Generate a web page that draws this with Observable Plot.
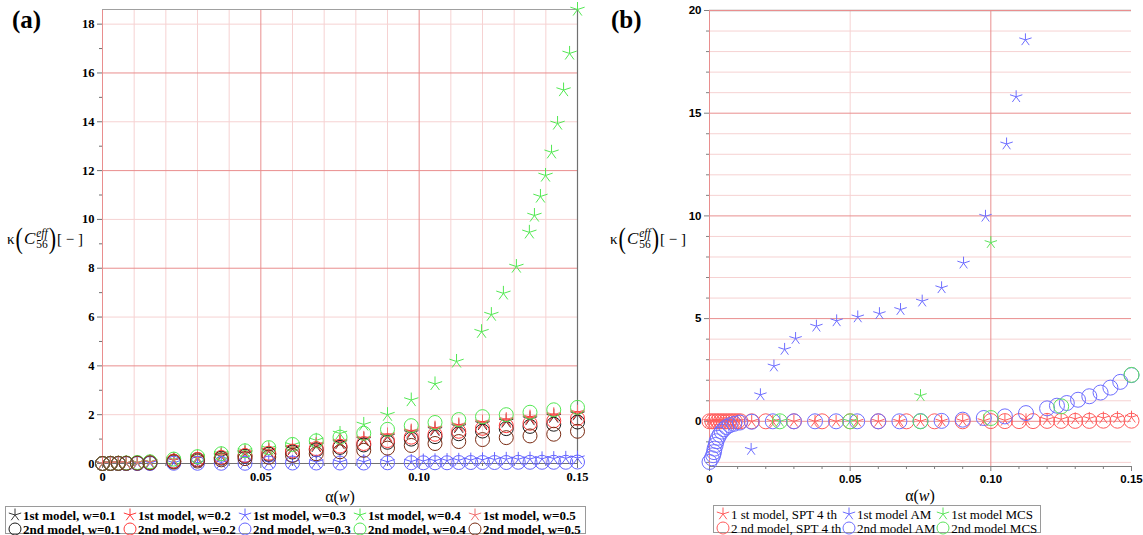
<!DOCTYPE html>
<html><head><meta charset="utf-8">
<script src="https://cdn.jsdelivr.net/npm/d3@7"></script>
<script src="https://cdn.jsdelivr.net/npm/@observablehq/plot@0.6"></script>
<style>
body{margin:0;background:#fff;width:1143px;height:535px;position:relative;overflow:hidden;font-family:"Liberation Serif",serif;color:#000;}
.abs{position:absolute;}
.plabel{font-weight:bold;font-size:25px;line-height:25px;}
.ylab{font-size:15px;display:flex;align-items:center;white-space:nowrap;height:30px;}
.par{font-size:22px;display:inline-block;transform:scaleY(1.35);line-height:1;margin:0 1px;}
.C{font-size:17px;font-style:italic;}
.ss{display:inline-flex;flex-direction:column;font-size:11.5px;line-height:11px;margin-left:1px;align-items:center;}
.xlab{font-size:16px;white-space:nowrap;transform:translateX(-50%);}
.legend{border:1px solid #9a9a9a;box-sizing:border-box;display:grid;font-size:13px;line-height:13px;padding:1px 2px;white-space:nowrap;}
.legend .it{display:flex;align-items:center;}
.legend svg{flex:none;margin-right:1px;}
</style></head>
<body>
<div id="pa" class="abs" style="left:0;top:0"></div>
<div id="pb" class="abs" style="left:600px;top:0"></div>
<div class="abs plabel" style="left:12px;top:7px">(a)</div>
<div class="abs plabel" style="left:611px;top:7px">(b)</div>
<div class="abs ylab" style="left:7px;top:224px">κ<span class="par">(</span><span class="C">C</span><span class="ss"><i>eff</i><span>56</span></span><span class="par">)</span><span>[ − ]</span></div>
<div class="abs ylab" style="left:610px;top:224px">κ<span class="par">(</span><span class="C">C</span><span class="ss"><i>eff</i><span>56</span></span><span class="par">)</span><span>[ − ]</span></div>
<div class="abs xlab" style="left:340px;top:488px">α(<i>w</i>)</div>
<div class="abs xlab" style="left:920px;top:487px">α(<i>w</i>)</div>
<div id="lega" class="abs legend" style="left:5px;top:506px;width:581px;height:28px;grid-template-columns:repeat(5,115px);font-weight:bold;"></div>
<div id="legb" class="abs legend" style="left:713px;top:505px;width:328px;height:28px;grid-template-columns:auto auto auto;"></div>
<script>
// ---------------- Panel (a) data ----------------
const xA = [0, 0.0025, 0.005, 0.0075, 0.011, 0.015, 0.0225, 0.03, 0.0375, 0.045, 0.0525, 0.06, 0.0675, 0.075, 0.0825, 0.09, 0.0975, 0.105, 0.1125, 0.12, 0.1275, 0.135, 0.1425, 0.15];
const m1w01 = [0,0.004,0.008,0.015,0.03,0.05,0.13,0.21,0.3,0.4,0.5,0.6,0.72,0.84,0.97,1.1,1.25,1.38,1.5,1.62,1.72,1.82,1.92,2.02];
const m1w02 = [0,0.005,0.01,0.02,0.035,0.06,0.14,0.23,0.33,0.43,0.53,0.64,0.76,0.88,1.0,1.14,1.3,1.42,1.55,1.66,1.76,1.86,1.96,2.06];
const m1w05 = [0,0.005,0.01,0.02,0.035,0.06,0.15,0.24,0.34,0.44,0.55,0.66,0.78,0.9,1.03,1.17,1.33,1.45,1.58,1.7,1.8,1.9,2.0,2.1];
const m2w01 = [0,0.003,0.005,0.009,0.018,0.035,0.09,0.15,0.22,0.3,0.38,0.47,0.56,0.66,0.76,0.87,1.0,1.1,1.22,1.33,1.43,1.52,1.61,1.7];
const m2w02 = [0,0.003,0.006,0.01,0.02,0.04,0.1,0.17,0.25,0.33,0.42,0.51,0.61,0.71,0.82,0.94,1.08,1.2,1.32,1.44,1.55,1.65,1.75,1.85];
const m2w04 = [0,0.005,0.01,0.02,0.04,0.07,0.18,0.28,0.4,0.52,0.65,0.78,0.93,1.08,1.24,1.4,1.55,1.68,1.8,1.92,2.0,2.1,2.2,2.3];
const m2w05 = [0,0.002,0.004,0.006,0.01,0.02,0.06,0.1,0.15,0.2,0.26,0.33,0.4,0.48,0.54,0.63,0.74,0.82,0.9,0.98,1.06,1.13,1.2,1.32];
const xBlueA = [0, 0.0025, 0.005, 0.0075, 0.011, 0.015, 0.0225, 0.03, 0.0375, 0.045, 0.0525, 0.06, 0.0675, 0.075, 0.0825, 0.09, 0.0975, 0.1013, 0.105, 0.1088, 0.1125, 0.1163, 0.12, 0.1238, 0.1275, 0.1313, 0.135, 0.1388, 0.1425, 0.1463, 0.15];
const m1w03 = [0,0,0,0.01,0.01,0.02,0.03,0.03,0.04,0.04,0.05,0.05,0.06,0.06,0.07,0.07,0.08,0.1,0.11,0.12,0.13,0.14,0.15,0.16,0.17,0.17,0.18,0.19,0.2,0.21,0.22];
const m2w03 = [0,0,0,0,0,0,0.01,0.01,0.01,0.01,0.02,0.02,0.02,0.02,0.02,0.03,0.03,0.03,0.03,0.03,0.04,0.04,0.04,0.04,0.04,0.05,0.05,0.05,0.05,0.05,0.06];
const xGreenA = [0, 0.0025, 0.005, 0.0075, 0.011, 0.015, 0.0225, 0.03, 0.0375, 0.045, 0.0525, 0.06, 0.0675, 0.075, 0.0825, 0.09, 0.0975, 0.105, 0.1118, 0.1197, 0.1228, 0.1266, 0.1307, 0.1348, 0.1364, 0.1383, 0.1399, 0.1418, 0.1437, 0.1456, 0.1475, 0.15];
const m1w04 = [0,0.005,0.01,0.02,0.04,0.07,0.17,0.28,0.4,0.52,0.62,0.76,0.95,1.23,1.6,2.0,2.6,3.26,4.18,5.4,6.1,6.97,8.07,9.47,10.16,10.94,11.8,12.75,13.93,15.3,16.8,18.6];

const xTicksA = [0, 0.05, 0.1, 0.15];
const xTickLabelsA = ["0", "0.05", "0.10", "0.15"];
const xMinorA = [0.01,0.02,0.03,0.04,0.06,0.07,0.08,0.09,0.11,0.12,0.13,0.14];
const xMajorGridA = [0, 0.05, 0.1];
const yTicksA = [0,2,4,6,8,10,12,14,16,18];
const yMinorTicksA = [1,3,5,7,9,11,13,15,17];
const yMajorGridA = [4,8,12,16];
const yMinorGridA = [2,6,10,14,18];

// ---------------- Panel (b) data ----------------
const xSptStar = [0,0.001,0.002,0.003,0.004,0.005,0.006,0.007,0.008,0.009,0.01,0.015,0.0225,0.03,0.0375,0.045,0.0525,0.06,0.0675,0.075,0.0825,0.09,0.0975,0.105,0.1125,0.12,0.125,0.13,0.135,0.14,0.145,0.15];
const sptStar = [0,0,0,0,0,0,0,0,0,0,0,0,0,0,0,0,0,0,0,0.01,0.01,0.02,0.03,0.05,0.07,0.09,0.1,0.12,0.14,0.16,0.18,0.2];
const xSptCircle = [0,0.001,0.002,0.003,0.004,0.005,0.006,0.007,0.008,0.009,0.01,0.011,0.015,0.02,0.03,0.04,0.05,0.06,0.07,0.08,0.09,0.1,0.105,0.11,0.115,0.12,0.125,0.13,0.135,0.14,0.145,0.15];
const sptCircle = [0,0,0,0,0,0,0,0,0,0,0,0,0,0,0,0,0,0,0,0,0,0.01,0.01,0.01,0.01,0.02,0.02,0.02,0.02,0.03,0.03,0.03];
const xAmStar = [0.0148,0.0181,0.0229,0.0267,0.0306,0.038,0.0452,0.0527,0.0604,0.0679,0.0756,0.0825,0.0903,0.0981,0.1056,0.109,0.1123];
const amStar = [-1.37,1.29,2.69,3.5,4.03,4.63,4.89,5.08,5.24,5.44,5.85,6.5,7.7,9.98,13.5,15.8,18.57];
const xAmCircle = [0,0.0008,0.0013,0.0016,0.0018,0.0022,0.0025,0.003,0.0036,0.0043,0.0051,0.006,0.0072,0.0088,0.0108,0.015,0.0225,0.03,0.0375,0.045,0.0525,0.06,0.0675,0.075,0.0825,0.09,0.0975,0.105,0.1125,0.12,0.1235,0.127,0.131,0.135,0.139,0.1425,0.146,0.15];
const amCircle = [-1.98,-1.8,-1.65,-1.5,-1.33,-1.15,-0.97,-0.8,-0.65,-0.5,-0.39,-0.28,-0.19,-0.12,-0.06,-0.02,0,0,0,0,0,0,0,0.01,0.02,0.08,0.16,0.24,0.4,0.63,0.76,0.89,1.05,1.22,1.4,1.64,1.92,2.25];
const xMcsStar = [0.025,0.05,0.075,0.1];
const mcsStar = [0,0,1.25,8.7];
const xMcsCircle = [0.025,0.05,0.075,0.1,0.125,0.15];
const mcsCircle = [0,0,0,0.16,0.73,2.26];

const xTicksB = [0, 0.05, 0.1, 0.15];
const xTickLabelsB = ["0", "0.05", "0.10", "0.15"];
const xMinorB = [0.01,0.02,0.03,0.04,0.06,0.07,0.08,0.09,0.11,0.12,0.13,0.14];
const xMajorGridB = [0, 0.1];
const xMinorGridB = [0.05];
const yTicksB = [0,5,10,15,20];
const yMinorTicksB = [-2,-1,1,2,3,4,6,7,8,9,11,12,13,14,16,17,18,19];
const yMajorGridB = [0,5,10,15,20];
const yMinorGridB = [-2,-1,1,2,3,4,6,7,8,9,11,12,13,14,16,17,18,19];

// ---------------- symbols ----------------
const asterisk5 = {draw(ctx, size) {
  const r = Math.sqrt(size / Math.PI);
  for (let i = 0; i < 5; i++) {
    const a = -Math.PI / 2 + i * 2 * Math.PI / 5;
    ctx.moveTo(0, 0);
    ctx.lineTo(r * Math.cos(a), r * Math.sin(a));
  }
}};

const C = {
  k: "#383838", kc: "#1a1a1a", r: "#ff3b3b", b: "#6464ff", g: "#52e852", s: "#f07070", br: "#7a2c14",
  rb: "#ff5c5c", bb: "#6e6eff", gb: "#5de45d"
};

function star(xs, ys, color, r) { return Plot.dot(xs, {x: xs, y: ys, r, symbol: asterisk5, fill: "none", stroke: color, strokeWidth: 1}); }
function circ(xs, ys, color, r) { return Plot.dot(xs, {x: xs, y: ys, r, symbol: "circle", fill: "none", stroke: color, strokeWidth: 1}); }

const seriesA = [
  {label: "1st model, w=0.1", kind: "star", color: C.k, x: xA, y: m1w01},
  {label: "1st model, w=0.2", kind: "star", color: C.r, x: xA, y: m1w02},
  {label: "1st model, w=0.3", kind: "star", color: C.b, x: xBlueA, y: m1w03},
  {label: "1st model, w=0.4", kind: "star", color: C.g, x: xGreenA, y: m1w04},
  {label: "1st model, w=0.5", kind: "star", color: C.s, x: xA, y: m1w05},
  {label: "2nd model, w=0.1", kind: "circle", color: C.kc, x: xA, y: m2w01},
  {label: "2nd model, w=0.2", kind: "circle", color: C.r, x: xA, y: m2w02},
  {label: "2nd model, w=0.3", kind: "circle", color: C.b, x: xBlueA, y: m2w03},
  {label: "2nd model, w=0.4", kind: "circle", color: C.g, x: xA, y: m2w04},
  {label: "2nd model, w=0.5", kind: "circle", color: C.br, x: xA, y: m2w05}
];
const seriesB = [
  {label: "1 st model, SPT 4 th", kind: "star", color: C.rb, x: xSptStar, y: sptStar},
  {label: "1st model AM", kind: "star", color: C.bb, x: xAmStar, y: amStar},
  {label: "1st model MCS", kind: "star", color: C.gb, x: xMcsStar, y: mcsStar},
  {label: "2 nd model, SPT 4 th", kind: "circle", color: C.rb, x: xSptCircle, y: sptCircle},
  {label: "2nd model AM", kind: "circle", color: C.bb, x: xAmCircle, y: amCircle},
  {label: "2nd model MCS", kind: "circle", color: C.gb, x: xMcsCircle, y: mcsCircle}
];

const minorGrid = "#f6d2d2", majorGrid = "#e98e8e";

const plotA = Plot.plot({
  width: 600, height: 505, marginLeft: 102, marginRight: 23, marginTop: 9, marginBottom: 42,
  x: {domain: [0, 0.15]}, y: {domain: [0, 18.6]},
  style: {fontFamily: "'Liberation Serif', serif", fontSize: "12.5px", fontWeight: "bold", color: "#000", background: "transparent"},
  marks: [
    Plot.gridX(xMinorA, {stroke: minorGrid, strokeOpacity: 1}),
    Plot.gridY(yMinorGridA, {stroke: minorGrid, strokeOpacity: 1}),
    Plot.gridX(xMajorGridA, {stroke: majorGrid, strokeOpacity: 1}),
    Plot.gridY(yMajorGridA, {stroke: majorGrid, strokeOpacity: 1}),
    Plot.ruleY([18.6], {stroke: "#a0a0a0", strokeWidth: 1.2}),
    Plot.ruleX([0.15], {stroke: "#707070", strokeWidth: 1.2}),
    Plot.ruleY([0], {stroke: "#707070", strokeWidth: 1.2}),
    Plot.axisX(xTicksA, {tickFormat: (d, i) => xTickLabelsA[i], tickSize: 5, tickPadding: 4, label: null, stroke: "#707070"}),
    Plot.axisX(xMinorA, {tickFormat: () => "", tickSize: 3, label: null, stroke: "#707070"}),
    Plot.axisY(yTicksA, {tickFormat: (d, i) => String(yTicksA[i]), tickSize: 5, tickPadding: 3, label: null, stroke: "#707070"}),
    Plot.axisY(yMinorTicksA, {tickFormat: () => "", tickSize: 3, label: null, stroke: "#707070"}),
    ...seriesA.map(s => s.kind === "star" ? star(s.x, s.y, s.color, 7.5) : circ(s.x, s.y, s.color, 7))
  ]
});
document.getElementById("pa").appendChild(plotA);

const plotB = Plot.plot({
  width: 543, height: 505, marginLeft: 109, marginRight: 12, marginTop: 10, marginBottom: 39,
  x: {domain: [0, 0.15]}, y: {domain: [-2.2, 20]},
  style: {fontFamily: "'Liberation Sans', sans-serif", fontSize: "11.5px", fontWeight: "bold", color: "#000", background: "transparent"},
  marks: [
    Plot.gridY(yMinorGridB, {stroke: minorGrid, strokeOpacity: 1}),
    Plot.gridX(xMinorGridB, {stroke: minorGrid, strokeOpacity: 1}),
    Plot.ruleY([20], {stroke: "#a0a0a0", strokeWidth: 1.6}),
    Plot.gridY(yMajorGridB, {stroke: majorGrid, strokeOpacity: 1}),
    Plot.gridX(xMajorGridB, {stroke: majorGrid, strokeOpacity: 1}),
    Plot.ruleY([-2.2], {stroke: "#808080", strokeWidth: 1.2}),
    Plot.axisX(xTicksB, {tickFormat: (d, i) => xTickLabelsB[i], tickSize: 5, tickPadding: 3, label: null, stroke: "#808080"}),
    Plot.axisX(xMinorB, {tickFormat: () => "", tickSize: 3, label: null, stroke: "#808080"}),
    Plot.axisY(yTicksB, {tickFormat: (d, i) => String(yTicksB[i]), tickSize: 5, tickPadding: 3, label: null, stroke: "#808080"}),
    Plot.axisY(yMinorTicksB, {tickFormat: () => "", tickSize: 3, label: null, stroke: "#808080"}),
    ...seriesB.map(s => s.kind === "star" ? star(s.x, s.y, s.color, 6.5) : circ(s.x, s.y, s.color, 7.5))
  ]
});
document.getElementById("pb").appendChild(plotB);

// ---------------- legends ----------------
function swatch(kind, color) {
  if (kind === "circle") return `<svg width="14" height="14" viewBox="-7 -7 14 14"><circle r="6" fill="none" stroke="${color}" stroke-width="1"/></svg>`;
  let d = "";
  for (let i = 0; i < 5; i++) { const a = -Math.PI/2 + i*2*Math.PI/5; d += `M0,0L${(6.5*Math.cos(a)).toFixed(2)},${(6.5*Math.sin(a)).toFixed(2)}`; }
  return `<svg width="14" height="14" viewBox="-7 -7 14 14"><path d="${d}" fill="none" stroke="${color}" stroke-width="1"/></svg>`;
}
function fillLegend(id, series) {
  const el = document.getElementById(id);
  el.innerHTML = series.map(s => `<div class="it">${swatch(s.kind, s.color)}<span>${s.label}</span></div>`).join("");
}
fillLegend("lega", seriesA);
fillLegend("legb", seriesB);
</script>
</body></html>
